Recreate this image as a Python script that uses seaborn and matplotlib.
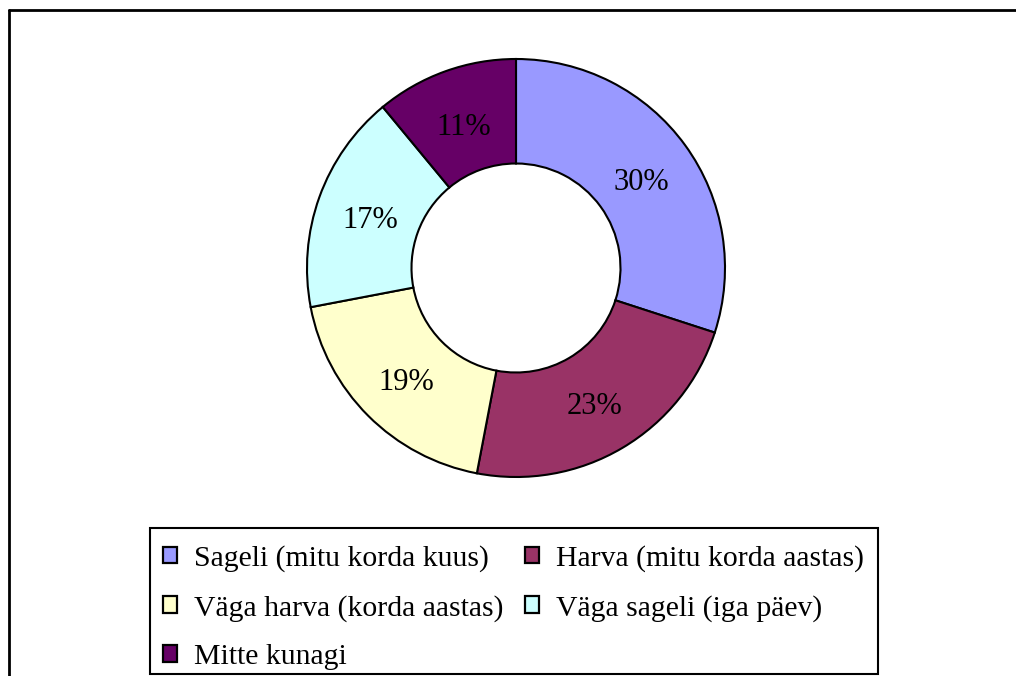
import matplotlib.pyplot as plt
import matplotlib.patches as mpatches
import seaborn as sns

# answer categories and shares (%)
categories = ["Sageli (mitu korda kuus)", "Harva (mitu korda aastas)",
              "Väga harva (korda aastas)", "Väga sageli (iga päev)", "Mitte kunagi"]
shares = [30, 23, 19, 17, 11]
colors = ["#9999FF", "#993366", "#FFFFCC", "#CCFFFF", "#660066"]

sns.set_theme(style="white")
plt.rcParams["font.family"] = ["Liberation Serif", "DejaVu Serif"]
plt.rcParams["text.color"] = "black"

W, H = 1016, 676
fig = plt.figure(figsize=(W / 100, H / 100), dpi=100)

# outer chart frame (only top and left visible)
fig.add_artist(plt.Line2D([9 / W, 1], [1 - 10 / H, 1 - 10 / H], color="black", lw=2))
fig.add_artist(plt.Line2D([9 / W, 9 / W], [0, 1 - 10 / H], color="black", lw=2))

cx, cy, r = 516, 268, 209
ax = fig.add_axes([(cx - r) / W, (H - cy - r) / H, 2 * r / W, 2 * r / H])
wedges, texts, autotexts = ax.pie(
    shares, colors=colors, startangle=90, counterclock=False,
    autopct="%d%%", pctdistance=0.74,
    wedgeprops=dict(width=0.5, edgecolor="black", linewidth=1.5),
    textprops=dict(fontsize=22, color="black"),
)
for t in autotexts:
    x, y = t.get_position()
    t.set_position((x, y - 0.024))
ax.set_xlim(-1, 1)
ax.set_ylim(-1, 1)
ax.set_aspect("equal")
ax.axis("off")

# legend box
fig.add_artist(mpatches.Rectangle((150 / W, 1 - 674 / H), 728 / W, 146 / H,
                                  transform=fig.transFigure, facecolor="none",
                                  edgecolor="black", linewidth=1.5))

# legend, row-major order as in the reference
order = [0, 2, 4, 1, 3]
handles = [mpatches.Patch(facecolor=colors[i], edgecolor="black", linewidth=1.6) for i in order]
labels = [categories[i] for i in order]
leg = fig.legend(handles, labels, loc="upper left", bbox_to_anchor=(150 / W, 1 - 532 / H),
                 ncol=2, fontsize=21.4, frameon=False,
                 borderpad=0.44, labelspacing=0.76,
                 handlelength=0.47, handleheight=0.47, handletextpad=0.56,
                 columnspacing=0.75, borderaxespad=0)
for t in leg.get_texts():
    t.set_color("black")

fig.savefig("out.png", dpi=100, facecolor="white")
